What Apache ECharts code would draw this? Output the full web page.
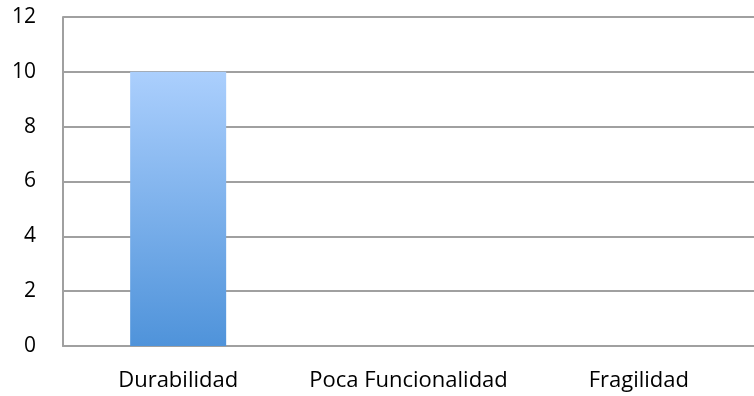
<!DOCTYPE html>
<html>
<head>
<meta charset="utf-8">
<script src="https://cdn.jsdelivr.net/npm/echarts@6/dist/echarts.min.js"></script>
<style>
  html, body { margin: 0; padding: 0; background: #fff; }
  #chart { width: 754px; height: 396px; }
</style>
</head>
<body>
<div id="chart"></div>
<script>
var categories = ['Durabilidad', 'Poca Funcionalidad', 'Fragilidad'];
var values = [10, 0, 0];

var chart = echarts.init(document.getElementById('chart'));

var option = {
    animation: false,
    grid: {
        left: 63,
        right: 0,
        top: 17,
        bottom: 50
    },
    xAxis: {
        type: 'category',
        data: categories,
        axisLine: { lineStyle: { color: '#a0a0a0', width: 2 } },
        axisTick: { show: false },
        axisLabel: {
            interval: 0,
            color: '#000',
            fontFamily: 'Open Sans',
            fontSize: 22,
            margin: 24
        }
    },
    yAxis: {
        type: 'value',
        min: 0,
        max: 12,
        interval: 2,
        axisLine: { show: true, lineStyle: { color: '#a0a0a0', width: 2 } },
        axisTick: { show: false },
        axisLabel: {
            color: '#000',
            fontFamily: 'Open Sans',
            fontSize: 21,
            margin: 27
        },
        splitLine: { lineStyle: { color: '#a0a0a0', width: 2 } }
    },
    series: [{
        type: 'bar',
        data: values,
        barWidth: 96,
        itemStyle: {
            color: new echarts.graphic.LinearGradient(0, 0, 0, 1, [
                { offset: 0, color: '#abcffd' },
                { offset: 1, color: '#4f93da' }
            ])
        }
    }]
};

chart.setOption(option);
</script>
</body>
</html>
